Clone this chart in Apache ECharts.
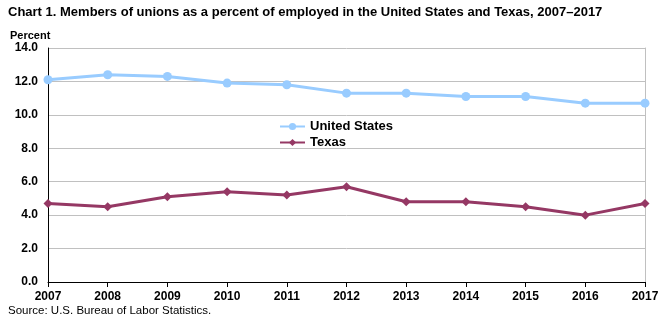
<!DOCTYPE html>
<html><head><meta charset="utf-8">
<script src="https://cdn.jsdelivr.net/npm/echarts@6/dist/echarts.min.js"></script>
<style>html,body{margin:0;padding:0;background:#fff}#c{width:665px;height:326px}</style>
</head><body><div id="c"></div>
<script>
const years = ['2007','2008','2009','2010','2011','2012','2013','2014','2015','2016','2017'];
const usValues = [12.1, 12.4, 12.3, 11.9, 11.8, 11.3, 11.3, 11.1, 11.1, 10.7, 10.7];
const texasValues = [4.7, 4.5, 5.1, 5.4, 5.2, 5.7, 4.8, 4.8, 4.5, 4.0, 4.7];
const yTicks = [0, 2, 4, 6, 8, 10, 12, 14];

const F = '"Liberation Sans Narrow","Liberation Sans",Arial,sans-serif';
const chart = echarts.init(document.getElementById('c'));
chart.setOption({
  animation: false,
  textStyle: {fontFamily: F},
  graphic: [
    {type:'text', left: 8, top: 6, style:{text:'Chart 1. Members of unions as a percent of employed in the United States and Texas, 2007\u20132017', font:'bold 13px '+F, fill:'#000'}},
    {type:'text', left: 10, top: 30, style:{text:'Percent', font:'bold 11px '+F, fill:'#000'}},
    {type:'text', left: 8, top: 305, style:{text:'Source: U.S. Bureau of Labor Statistics.', font:'11.5px '+F, fill:'#000'}}
  ],
  legend: {
    orient: 'vertical', left: 274, top: 115, itemGap: 3, itemWidth: 25, itemHeight: 9,
    textStyle: {fontFamily: F, fontWeight: 'bold', fontSize: 13, color: '#000'},
    data: ['United States', 'Texas']
  },
  grid: {left: 48, right: 20, top: 48, bottom: 44, containLabel: false},
  xAxis: {
    type: 'category', data: years, boundaryGap: false,
    axisLine: {lineStyle: {color: '#000', width: 1}},
    axisTick: {show: true, alignWithLabel: true, length: 5, lineStyle: {color: '#000'}},
    axisLabel: {fontFamily: F, fontWeight: 'bold', fontSize: 12, color: '#000', margin: 9, interval: 0}
  },
  yAxis: [{
    type: 'value', min: yTicks[0], max: yTicks[yTicks.length-1], interval: 2,
    axisLine: {show: true, lineStyle: {color: '#000'}},
    axisTick: {show: false},
    splitLine: {lineStyle: {color: '#c0c0c0', width: 1}},
    axisLabel: {fontFamily: F, fontWeight: 'bold', fontSize: 12, color: '#000', margin: 10, formatter: v => v.toFixed(1)}
  }, {
    type: 'value', min: 0, max: 14, interval: 2, position: 'right',
    axisLine: {show: true, lineStyle: {color: '#c0c0c0'}},
    axisTick: {show: false}, axisLabel: {show: false}, splitLine: {show: false}
  }],
  series: [
    {name: 'United States', type: 'line', data: usValues, symbol: 'circle', symbolSize: 9,
     lineStyle: {width: 3, color: '#99ccff'}, itemStyle: {color: '#99ccff'}},
    {name: 'Texas', type: 'line', data: texasValues, symbol: 'diamond', symbolSize: 9,
     lineStyle: {width: 3, color: '#953864'}, itemStyle: {color: '#953864'}}
  ]
});
</script></body></html>
